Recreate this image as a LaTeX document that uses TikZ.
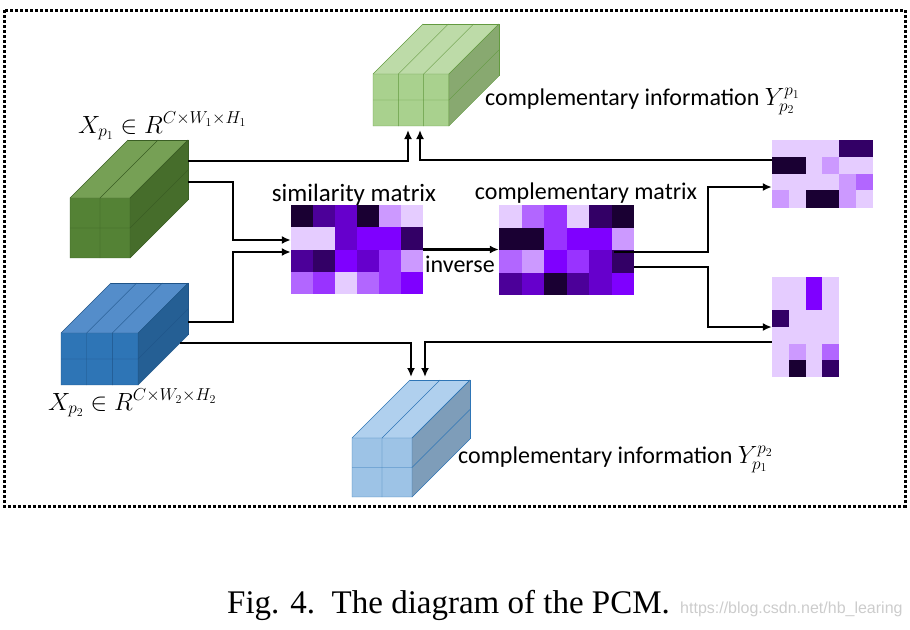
\documentclass[tikz,border=0pt]{standalone}
\usepackage{fontspec}
\setmainfont{Carlito}
\newfontfamily\capfont{Liberation Serif}
\newfontfamily\urlfont{Liberation Sans}
\usetikzlibrary{arrows.meta}

\definecolor{gfront}{HTML}{548235}
\definecolor{gtop}{HTML}{76A055}
\definecolor{gside}{HTML}{466D2B}
\definecolor{gedge}{HTML}{3A5E24}
\definecolor{bfront}{HTML}{2E75B6}
\definecolor{btop}{HTML}{548DCA}
\definecolor{bside}{HTML}{255F94}
\definecolor{bedge}{HTML}{1F5488}
\definecolor{lgfront}{HTML}{A9D18E}
\definecolor{lgtop}{HTML}{BDDBA8}
\definecolor{lgside}{HTML}{88A970}
\definecolor{lgedge}{HTML}{639A40}
\definecolor{lbfront}{HTML}{9DC3E6}
\definecolor{lbtop}{HTML}{B0D0EE}
\definecolor{lbside}{HTML}{7E9DB9}
\definecolor{lbedge}{HTML}{2E75B6}

\definecolor{p0}{HTML}{E5CCFF}
\definecolor{p1}{HTML}{CC99FF}
\definecolor{p2}{HTML}{B266FF}
\definecolor{p3}{HTML}{9933FF}
\definecolor{p4}{HTML}{7F00FF}
\definecolor{p5}{HTML}{6600CC}
\definecolor{p6}{HTML}{4C0099}
\definecolor{p7}{HTML}{330066}
\definecolor{p8}{HTML}{1A0033}

\newcommand{\pcmcube}[8]{%
  \fill[#8front] (#1,#2) rectangle ({#1+#3*#5},{#2+#4*#6});
  \fill[#8top] (#1,#2) -- ++(#7,-#7) -- ++({#3*#5},0) -- ({#1+#3*#5},#2) -- cycle;
  \fill[#8side] ({#1+#3*#5},#2) -- ++(#7,-#7) -- ++(0,{#4*#6}) -- ({#1+#3*#5},{#2+#4*#6}) -- cycle;
  \foreach \i in {0,...,#3}
    \draw[#8edge] ({#1+\i*#5},{#2+#4*#6}) -- ({#1+\i*#5},#2) -- ++(#7,-#7);
  \foreach \j in {0,...,#4}
    \draw[#8edge] (#1,{#2+\j*#6}) -- ++({#3*#5},0) -- ++(#7,-#7);
  \draw[#8edge] ({#1+#7},{#2-#7}) -- ++({#3*#5},0) -- ++(0,{#4*#6});
}

\newcommand{\pcmmatrix}[5]{%
  \foreach \row [count=\r from 0] in {#5} {
    \foreach \cell [count=\k from 0] in \row
      \fill[\cell] ({#1+\k*#3},{#2+\r*#4}) rectangle ++({#3+0.4},{#4+0.4});
  }
}

\begin{document}
\begin{tikzpicture}[x=1pt,y=-1pt,
    conn/.style={line width=2, -{Latex[length=9,width=8]}},
    mat/.style={inner sep=0, draw=none},
    lbl/.style={inner sep=0, font=\fontsize{24}{28}\selectfont},
    mathlbl/.style={inner sep=0, font=\fontsize{23}{27}\selectfont}]
  \useasboundingbox (0,0) rectangle (910,629);
  \draw[line width=3, dash pattern=on 3 off 2] (4,10) rectangle (905,506);

  \pcmcube{70}{198}{2}{2}{30}{30}{58}{g}
  \pcmcube{61}{333}{3}{2}{25.7}{26}{50}{b}
  \pcmcube{373}{74}{3}{2}{25.3}{26}{50}{lg}
  \pcmcube{352}{438}{2}{2}{30}{29.5}{58}{lb}

  \node[mat, minimum width=132, minimum height=89] (sim) at (357,249.5) {};
  \pcmmatrix{291}{205}{22}{22.25}{{p8,p6,p5,p8,p1,p0},{p0,p0,p5,p4,p4,p7},{p6,p7,p4,p5,p3,p1},{p2,p3,p0,p2,p3,p4}}
  \node[mat, minimum width=135, minimum height=90] (comp) at (566.5,250) {};
  \pcmmatrix{499}{205}{22.5}{22.5}{{p0,p2,p3,p0,p7,p8},{p8,p8,p3,p4,p4,p1},{p2,p1,p4,p3,p5,p7},{p6,p5,p8,p6,p5,p4}}
  \node[mat, minimum width=101, minimum height=67] (rtop) at (822.5,173.5) {};
  \pcmmatrix{772}{140}{16.8}{16.8}{{p0,p0,p0,p0,p7,p7},{p8,p8,p0,p1,p0,p0},{p0,p0,p0,p0,p1,p2},{p1,p0,p8,p8,p1,p0}}
  \node[mat, minimum width=67, minimum height=100] (rbot) at (805.5,327) {};
  \pcmmatrix{772}{277}{16.75}{16.67}{{p0,p0,p4,p0},{p0,p0,p4,p0},{p7,p0,p0,p0},{p0,p0,p0,p0},{p0,p1,p0,p2},{p0,p8,p0,p7}}

  \coordinate (g1) at (188,161);
  \coordinate (g2) at (188,182);
  \coordinate (b1) at (188,322);
  \coordinate (b2) at (180,343);
  \coordinate (yg1) at (408,130);
  \coordinate (yg2) at (420,130);
  \coordinate (yb1) at (411,377);
  \coordinate (yb2) at (425,377);
  \coordinate (c1) at (614,252);

  \draw[conn] (g1) -| (yg1);
  \draw[conn] ([yshift=13.5]rtop.west) -| (yg2);
  \draw[conn] (g2) -- ++(45,0) |- ([yshift=9.5]sim.west);
  \draw[conn] (b1) -- ++(45,0) |- ([yshift=-2.5]sim.west);
  \draw[conn] (b2) -| (yb1);
  \draw[conn] ([yshift=-15]rbot.west) -| (yb2);
  \draw[conn, line width=3] (sim.east) -- (sim.east -| comp.west);
  \draw[conn] (c1) -- ++(94,0) |- ([yshift=-13.5]rtop.west);
  \draw[conn] ([yshift=-17]comp.east) -- ++(74,0) |- (rbot.west);

  \node[lbl, anchor=base, font=\fontsize{25}{29}\selectfont] (simtext) at (354,201) {similarity matrix};
  \node[lbl, anchor=base] (comptext) at (586,199) {complementary matrix};
  \node[lbl, anchor=base west] (invtext) at (425,272) {inverse};
  \node[lbl, anchor=base west] (ytoptext) at (485,105) {complementary information $Y_{p_2}^{p_1}$};
  \node[lbl, anchor=base west] (ybottext) at (458,463) {complementary information $Y_{p_1}^{p_2}$};
  \node[mathlbl, anchor=base west] (x1text) at (78,133) {$X_{p_1}\in R^{C\times W_1\times H_1}$};
  \node[mathlbl, anchor=base west] (x2text) at (48,410) {$X_{p_2}\in R^{C\times W_2\times H_2}$};

  \node[inner sep=0, anchor=base west, font=\capfont\fontsize{33}{37}\selectfont] (caption) at (227,613) {Fig. 4.\ \ The diagram of the PCM.};
  \node[inner sep=0, anchor=base west, text=black!20, font=\urlfont\fontsize{16}{18}\selectfont] (mark) at (680,613) {https://blog.csdn.net/hb\_learing};
\end{tikzpicture}
\end{document}
